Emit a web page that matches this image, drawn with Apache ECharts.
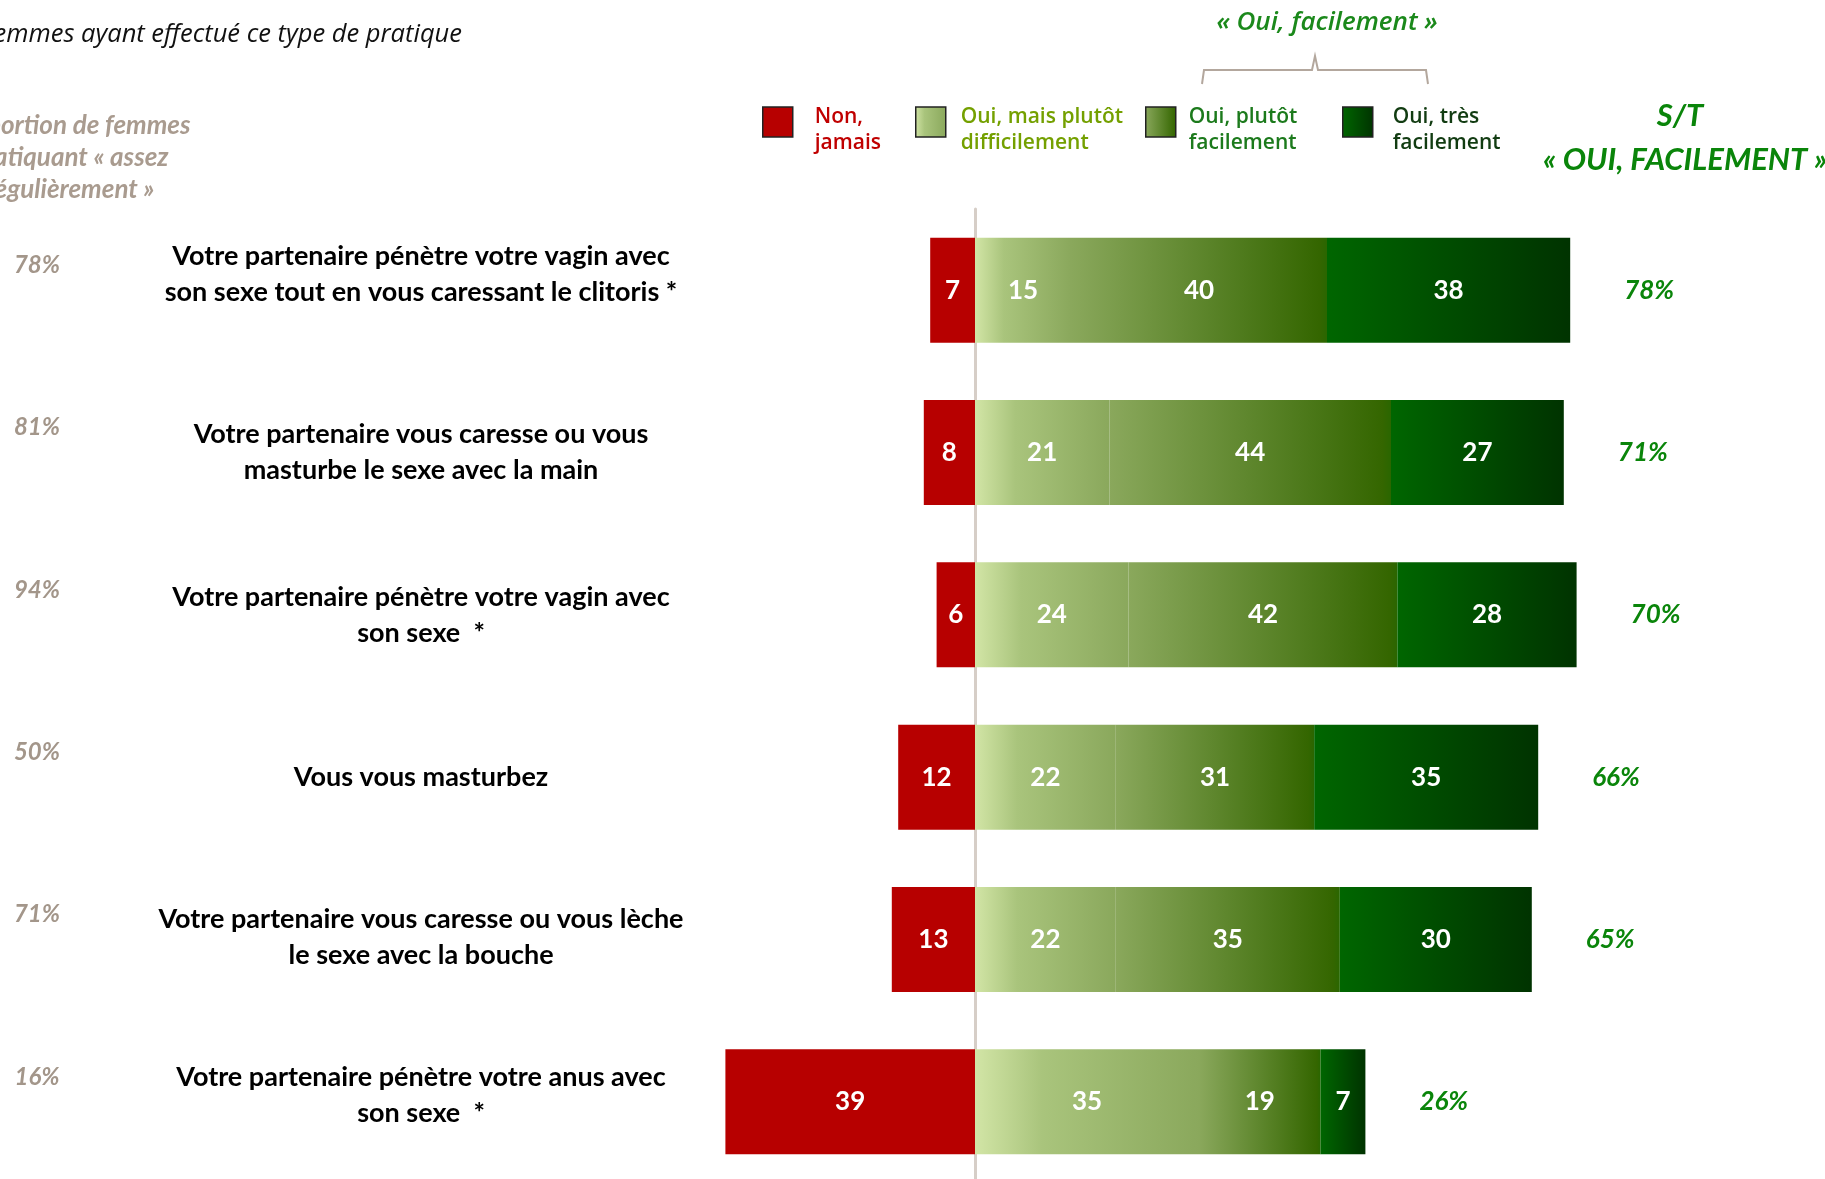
<!DOCTYPE html>
<html>
<head>
<meta charset="utf-8">
<script src="https://cdn.jsdelivr.net/npm/echarts@6/dist/echarts.min.js"></script>
<style>
  html, body { margin: 0; padding: 0; background: #fff; }
  #chart { width: 1825px; height: 1179px; }
</style>
</head>
<body>
<div id="chart"></div>
<script>
// pratiques (de haut en bas)
const categories = [
  'Votre partenaire pénètre votre vagin avec\nson sexe tout en vous caressant le clitoris *',
  'Votre partenaire vous caresse ou vous\nmasturbe le sexe avec la main',
  'Votre partenaire pénètre votre vagin avec\nson sexe  *',
  'Vous vous masturbez',
  'Votre partenaire vous caresse ou vous lèche\nle sexe avec la bouche',
  'Votre partenaire pénètre votre anus avec\nson sexe  *'
]
const nonJamais = [7, 8, 6, 12, 13, 39]
const ouiDifficile = [15, 21, 24, 22, 22, 35]
const ouiPlutot = [40, 44, 42, 31, 35, 19]
const ouiTres = [38, 27, 28, 35, 30, 7]
// S/T « oui, facilement »
const stFacile = [78, 71, 70, 66, 65, 26]
// proportion de femmes pratiquant « assez régulièrement »
const assezRegulier = [78, 81, 94, 50, 71, 16]

const grad = (stops) => new echarts.graphic.LinearGradient(0, 0, 1, 0,
  stops.map((c) => ({ offset: c[0], color: c[1] })))

const colRed = '#b70000'
const colLight = grad([[0, '#d2e5a6'], [0.3, '#a9c47c'], [1, '#8aa85c']])
const colMid = grad([[0, '#8aa85c'], [0.97, '#346600'], [1, '#2a6600']])
const colDark = grad([[0, '#006600'], [1, '#003300']])

const valueLabel = {
  show: true,
  position: 'inside',
  color: '#fff',
  fontFamily: 'Lato',
  fontWeight: 'bold',
  fontSize: 26,
  formatter: (p) => Math.abs(p.value)
}

const names = [
  'Non,\njamais',
  'Oui, mais plutôt\ndifficilement',
  'Oui, plutôt\nfacilement',
  'Oui, très\nfacilement'
]
const legendColors = ['#c00000', '#74a000', '#1c7a1c', '#123c12']
const legendLeft = [757, 910, 1140, 1337]
const legendGap = [17, 10, 8, 15]
// petit décalage vertical des libellés (comme dans l'original)
const labelLift = [32, 0, 0, 0, 4, 14]

const liftRich = {}
labelLift.forEach((h, i) => {
  liftRich['s' + i] = { fontSize: 1, lineHeight: h, height: h }
})

const chart = echarts.init(document.getElementById('chart'))

const option = {
  backgroundColor: '#fff',
  animation: false,
  grid: { left: 719, top: 209, width: 896, height: 974, containLabel: false, outerBoundsMode: 'none' },
  xAxis: {
    type: 'value',
    min: -40,
    max: 100,
    show: false
  },
  yAxis: [
    {
      type: 'category',
      data: categories,
      inverse: true,
      axisLine: { show: true, onZero: true, lineStyle: { color: '#d6cec7', width: 3 } },
      axisTick: { show: false },
      axisLabel: {
        margin: 298,
        align: 'center',
        color: '#000',
        fontFamily: 'Lato',
        fontWeight: 'bold',
        fontSize: 27,
        lineHeight: 36,
        formatter: (v, i) => labelLift[i] ? v + '\n{s' + i + '| }' : v,
        rich: liftRich
      }
    },
    {
      type: 'category',
      data: categories,
      inverse: true,
      position: 'left',
      axisLine: { show: false, onZero: false },
      axisTick: { show: false },
      axisLabel: {
        margin: 682,
        align: 'center',
        verticalAlign: 'bottom',
        padding: [0, 0, 13, 0],
        color: '#a3968a',
        fontFamily: 'Lato',
        fontStyle: 'italic',
        fontWeight: 'bold',
        fontSize: 24,
        formatter: (v, i) => assezRegulier[i] + '%'
      }
    }
  ],
  legend: names.map((n, i) => ({
    left: legendLeft[i],
    top: 83,
    icon: 'rect',
    itemWidth: 30,
    itemHeight: 30,
    selectedMode: false,
    itemStyle: { borderColor: '#222', borderWidth: 1.5 },
    formatter: (name) => '{s| }\n' + name,
    textStyle: {
      color: legendColors[i],
      fontFamily: 'Open Sans',
      fontWeight: 600,
      fontSize: 21,
      lineHeight: 26,
      padding: [0, 0, 0, legendGap[i]],
      rich: { s: { fontSize: 1, lineHeight: 16, height: 16 } }
    },
    data: [n]
  })),
  series: [
    {
      name: names[0],
      type: 'bar',
      stack: 'total',
      barWidth: 105,
      data: nonJamais.map((v) => -v),
      itemStyle: { color: colRed },
      label: valueLabel
    },
    {
      name: names[1],
      type: 'bar',
      stack: 'total',
      barWidth: 105,
      data: ouiDifficile,
      itemStyle: { color: colLight },
      label: valueLabel
    },
    {
      name: names[2],
      type: 'bar',
      stack: 'total',
      barWidth: 105,
      data: ouiPlutot,
      itemStyle: { color: colMid },
      label: valueLabel
    },
    {
      name: names[3],
      type: 'bar',
      stack: 'total',
      barWidth: 105,
      data: ouiTres,
      itemStyle: { color: colDark },
      label: valueLabel
    },
    {
      // porte le libellé S/T au bout de la barre
      name: 'st',
      type: 'bar',
      stack: 'total',
      barWidth: 105,
      data: stFacile.map(() => 0),
      itemStyle: { color: 'transparent' },
      label: {
        show: true,
        position: 'right',
        distance: 54,
        color: '#0a850a',
        fontFamily: 'Lato',
        fontStyle: 'italic',
        fontWeight: 'bold',
        fontSize: 26,
        formatter: (p) => stFacile[p.dataIndex] + '%'
      }
    }
  ],
  graphic: [
    {
      type: 'text',
      x: 462,
      y: 35,
      style: {
        text: 'Base : femmes ayant effectué ce type de pratique',
        fill: '#111',
        font: 'italic 25.5px "Open Sans"',
        align: 'right',
        verticalAlign: 'middle'
      }
    },
    {
      type: 'text',
      x: 70,
      y: 110,
      style: {
        text: 'Proportion de femmes\npratiquant « assez\nrégulièrement »',
        fill: '#a99b8f',
        font: 'italic bold 26px Lato',
        lineHeight: 32,
        align: 'center',
        verticalAlign: 'top'
      }
    },
    {
      type: 'text',
      x: 1327,
      y: 23,
      style: {
        text: '« Oui, facilement »',
        fill: '#1b891b',
        font: 'italic 600 26px "Open Sans"',
        align: 'center',
        verticalAlign: 'middle'
      }
    },
    {
      type: 'polyline',
      shape: { points: [[1202, 84], [1204, 70], [1312, 70], [1315, 56], [1318, 70], [1426, 70], [1428, 84]] },
      style: { stroke: '#b3a79d', lineWidth: 2, fill: null }
    },
    {
      type: 'text',
      x: 1680,
      y: 116,
      style: {
        text: 'S/T',
        fill: '#0a850a',
        font: 'italic bold 31px Lato',
        align: 'center',
        verticalAlign: 'middle'
      }
    },
    {
      type: 'text',
      x: 1685,
      y: 160,
      style: {
        text: '« OUI, FACILEMENT »',
        fill: '#0a850a',
        font: 'italic bold 31px Lato',
        align: 'center',
        verticalAlign: 'middle'
      }
    }
  ]
}

chart.setOption(option)
</script>
</body>
</html>
